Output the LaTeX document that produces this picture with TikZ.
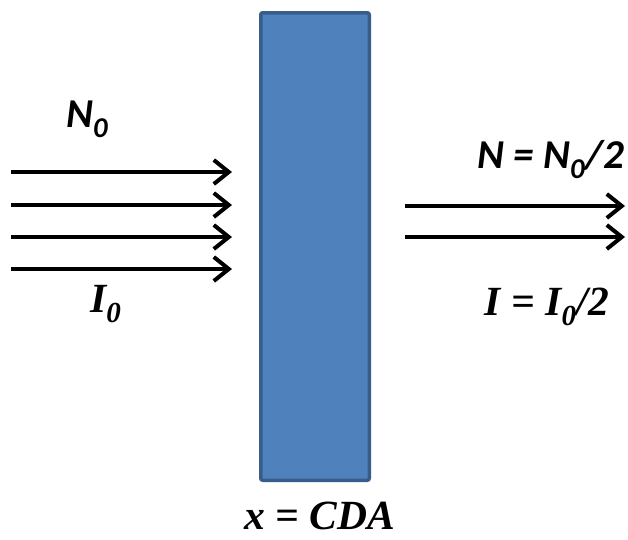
\documentclass[tikz,border=0pt]{standalone}
\usepackage{fontspec}
\setmainfont{Liberation Serif}
\newfontfamily\carlito{Carlito}
\usepackage{tikz}
\usetikzlibrary{calc,arrows.meta}
\definecolor{cda-fill}{HTML}{4F81BD}
\definecolor{cda-edge}{HTML}{385D8A}

\begin{document}
\begin{tikzpicture}[x=1pt, y=-1pt,
    slab/.style={draw=cda-edge, fill=cda-fill, line width=3.5pt, rounded corners=2pt,
        minimum width=108.5pt, minimum height=467.5pt, inner sep=0pt},
    beam/.style={line width=4pt, -{Straight Barb[length=15pt, width=24pt, line width=4pt]}},
    serif label/.style={font=\fontsize{41.5}{48}\selectfont\bfseries\itshape, inner sep=0pt},
    sans label/.style={font=\fontsize{41}{48}\selectfont\carlito\bfseries\itshape, inner sep=0pt}]

    \useasboundingbox (0, 0) rectangle (628, 539);

    % absorber slab
    \node[slab] (slab) at (315, 246.5) {};

    % incoming beam: 4 rays
    \foreach \i/\y in {1/172, 2/205, 3/237, 4/269} {
        \coordinate (in\i s) at (11, \y);
        \coordinate (in\i e) at (232, \y);
        \draw[beam] (in\i s) -- (in\i e);
    }

    % transmitted beam: 2 rays
    \foreach \i/\y in {1/206, 2/237} {
        \coordinate (out\i s) at (405, \y);
        \coordinate (out\i e) at (625, \y);
        \draw[beam] (out\i s) -- (out\i e);
    }

    % labels
    \node[sans label, anchor=base west] (nin) at (66, 127) {N\textsubscript{0}};
    \node[serif label, anchor=base west] (iin) at (90, 312) {I\textsubscript{0}};
    \node[sans label, anchor=base east] (nout) at (624, 168) {N = N\textsubscript{0}/2};
    \node[serif label, anchor=base east] (iout) at (609, 315) {I = I\textsubscript{0}/2};
    \node[serif label, anchor=base] (thick) at (320, 529) {x = CDA};
\end{tikzpicture}
\end{document}
